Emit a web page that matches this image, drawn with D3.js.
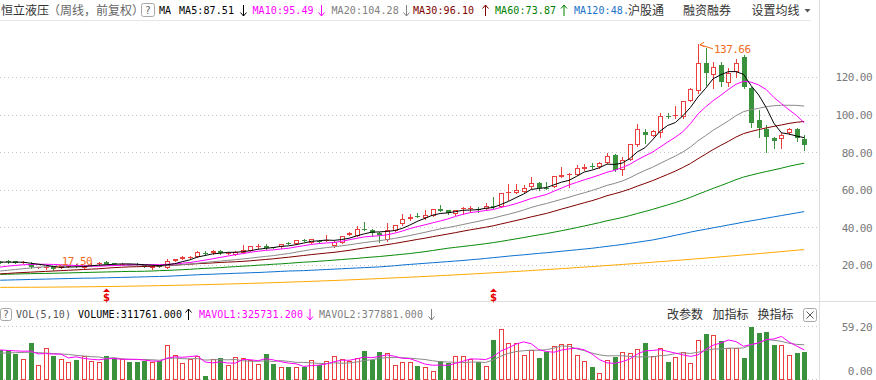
<!DOCTYPE html>
<html><head><meta charset="utf-8">
<script src="https://cdn.jsdelivr.net/npm/d3@7"></script>
<style>html,body{margin:0;padding:0;background:#fff;overflow:hidden}svg{display:block}</style>
</head><body><svg id="c" width="876" height="380"></svg>
<script>
// ---------- data (weekly, forward-adjusted) ----------
const stockName = "恒立液压";
const stockMode = "（周线，前复权）";
const open = [21.8,21.9,22.1,21.4,20.4,18.7,18.4,18.8,18.5,19.2,
19.8,18.3,19.5,20.4,21.8,20.8,20.4,20.5,20.6,20.0,
18.2,19.6,18.6,22.3,23.2,24.2,24.4,26.6,26.2,27.6,
26.4,25.4,26.5,27.6,29.9,30.1,29.5,29.4,31.6,31.2,
33.4,31.9,33.0,33.2,30.1,31.9,36.0,35.4,39.2,38.6,
37.2,33.3,38.2,41.6,44.3,46.3,44.8,46.0,49.8,49.3,
47.0,50.0,50.1,50.0,49.6,51.5,51.0,58.4,58.5,59.0,
61.3,63.5,61.0,61.6,67.0,68.2,67.9,70.9,72.4,72.0,
74.4,78.5,70.5,75.9,83.8,90.7,88.6,90.0,99.5,99.6,
98.6,107.4,112.7,127.6,121.0,126.4,116.6,122.8,130.8,114.0,
97.1,92.3,87.4,86.9,90.0,92.3,87.0];
const high = [22.2,22.4,22.3,22.0,21.8,19.2,19.3,19.0,19.6,20.0,
20.3,19.9,20.8,21.5,22.0,21.0,20.9,20.7,20.9,20.2,
19.7,20.0,23.2,23.4,24.6,25.0,27.5,27.2,27.8,27.8,
27.0,27.7,30.6,30.3,31.0,31.4,29.8,31.4,32.0,33.5,
33.8,34.0,33.2,36.0,32.6,35.6,37.8,40.8,42.7,39.2,
37.8,42.2,41.5,46.9,47.3,47.5,49.5,49.8,51.9,49.5,
49.5,50.8,51.4,51.0,52.8,56.3,58.3,63.1,63.1,62.6,
67.0,64.4,64.3,67.5,72.0,68.8,73.2,73.5,74.1,74.6,
79.7,79.0,77.6,84.5,94.8,92.2,92.0,100.7,100.7,104.6,
107.4,114.0,137.66,135.3,127.8,128.0,124.8,129.5,131.6,114.8,
102.4,94.4,88.2,90.0,92.7,92.7,89.0];
const low = [21.0,21.2,21.0,21.1,18.6,18.3,18.0,17.5,18.2,18.9,
19.0,18.1,19.3,20.2,20.4,20.2,20.2,19.8,20.1,19.0,
18.0,19.1,18.5,22.0,23.0,23.8,24.2,25.8,26.0,26.0,
26.0,25.3,26.3,27.4,29.0,28.7,29.0,29.2,31.0,31.0,
32.8,31.7,32.5,32.6,29.4,31.7,35.8,35.2,38.6,35.5,
32.4,33.0,38.0,41.4,44.1,45.3,44.6,45.8,48.7,47.3,
46.8,47.1,48.4,48.4,49.4,50.2,50.8,54.6,58.3,58.8,
61.1,60.0,60.5,61.4,66.8,61.6,67.7,70.7,71.4,71.8,
74.2,70.0,67.9,75.7,83.5,84.7,88.4,88.2,98.2,98.2,
98.4,107.2,111.3,115.7,114.0,115.0,115.0,120.0,114.0,93.5,
87.9,80.3,82.3,82.0,89.5,85.8,81.2];
const close = [21.4,21.7,21.2,21.6,18.8,18.9,18.9,17.9,19.3,19.6,
19.4,19.6,20.0,21.2,20.6,20.5,20.6,20.0,20.4,19.1,
19.5,19.4,22.3,23.2,24.4,24.4,26.8,26.4,27.6,26.2,
26.6,27.1,28.0,30.1,30.1,28.9,29.3,31.2,31.4,33.3,
33.2,33.7,32.8,33.4,32.4,35.4,37.2,39.0,38.9,36.9,
36.0,38.6,41.3,44.5,45.7,46.1,46.6,49.6,48.9,47.5,
49.3,50.2,50.3,49.8,51.4,51.2,58.1,58.6,59.9,60.8,
63.5,60.8,60.8,67.3,67.9,68.4,71.4,72.3,72.2,74.4,
78.0,70.5,75.9,84.2,92.2,89.0,91.4,99.3,99.2,99.8,
107.2,113.5,127.3,122.0,125.5,117.5,122.0,127.3,114.8,95.4,
92.7,88.2,86.1,89.0,92.3,87.4,83.8];
// volume in 万 shares
const volume = [32.4,33.5,28.7,23.1,41.3,16.4,35.4,25.7,23.1,20.1,
22.3,26.8,20.5,20.1,25.7,24.2,22.7,20.1,20.1,21.2,
19.0,21.2,38.0,27.6,18.2,22.7,25.7,3.4,23.1,23.5,
16.4,24.9,23.8,22.0,17.5,28.7,17.5,13.8,14.1,13.8,
13.8,22.0,16.4,20.9,25.7,23.1,21.2,24.2,31.3,22.0,
30.2,29.8,16.4,20.1,20.1,15.6,13.8,10.0,21.2,18.2,
26.8,25.7,23.1,20.1,15.6,43.6,56.6,41.0,41.0,27.9,
33.2,23.8,30.5,36.9,39.9,39.9,27.9,21.2,14.5,7.5,
22.0,24.9,30.5,29.8,34.3,40.6,26.8,35.4,20.1,24.9,
30.5,18.2,43.6,50.3,49.2,42.5,35.0,35.0,23.8,59.2,
51.7,53.6,38.0,38.0,27.9,29.8,31.18];
const ma5 = [21.6,21.5,21.5,21.5,20.94,20.44,19.88,19.22,18.76,18.92,
19.02,19.16,19.58,19.96,20.16,20.38,20.58,20.58,20.42,20.12,
19.92,19.68,20.14,20.70,21.76,22.74,24.22,25.04,25.92,26.28,
26.72,26.78,27.10,27.60,28.38,28.84,29.28,29.92,30.18,30.82,
31.68,32.56,32.88,33.28,33.10,33.54,34.24,35.48,36.58,37.48,
37.60,37.88,38.34,39.46,41.22,43.24,44.84,46.50,47.38,47.74,
48.38,49.10,49.24,49.42,50.20,50.58,52.16,53.82,55.84,57.72,
60.18,60.72,61.16,62.64,64.06,65.04,67.16,69.46,70.44,71.74,
73.66,73.48,74.20,76.60,80.16,82.36,86.54,91.22,94.22,95.74,
99.38,103.80,109.40,113.96,119.10,121.16,122.86,122.86,121.42,115.40,
110.44,103.68,95.44,90.28,89.66,88.60,87.72];
const ma10 = [18.9,19.4,19.8,20.1,20.3,20.4,20.4,20.3,20.1,19.93,
19.73,19.52,19.40,19.36,19.54,19.70,19.87,20.08,20.19,20.14,
20.15,20.13,20.36,20.56,20.94,21.33,21.95,22.59,23.31,24.02,
24.73,25.50,26.07,26.76,27.33,27.78,28.03,28.51,28.89,29.60,
30.26,30.92,31.40,31.73,31.96,32.61,33.40,34.18,34.93,35.29,
35.57,36.06,36.91,38.02,39.35,40.42,41.36,42.42,43.42,44.48,
45.81,46.97,47.87,48.40,48.97,49.48,50.63,51.53,52.63,53.96,
55.38,56.44,57.49,59.24,60.89,62.61,63.94,65.31,66.54,67.90,
69.35,70.32,71.83,73.52,75.95,78.01,80.01,82.71,85.41,87.95,
90.87,95.17,100.31,104.09,107.42,110.27,113.33,116.13,117.69,117.25,
115.80,113.27,109.15,105.85,102.53,99.52,95.70];
const ma20 = [16.8,17.2,17.6,18.0,18.4,18.8,19.1,19.3,19.5,19.6,
19.6,19.6,19.7,19.7,19.8,19.8,19.9,19.9,20.0,20.04,
19.94,19.83,19.88,19.96,20.24,20.52,20.91,21.34,21.75,22.08,
22.44,22.82,23.22,23.66,24.14,24.56,24.99,25.55,26.10,26.81,
27.50,28.21,28.74,29.25,29.65,30.20,30.72,31.35,31.91,32.45,
32.92,33.49,34.16,34.88,35.66,36.52,37.38,38.30,39.18,39.89,
40.69,41.52,42.39,43.21,44.16,44.95,46.00,46.98,48.03,49.22,
50.60,51.71,52.68,53.82,54.93,56.05,57.29,58.42,59.59,60.93,
62.37,63.38,64.66,66.38,68.42,70.31,71.98,74.01,75.98,77.93,
80.11,82.75,86.07,88.81,91.69,94.14,96.67,99.42,101.55,102.60,
103.34,104.22,104.73,104.97,104.98,104.90,104.52];
const ma30 = [15.3,15.5,15.8,16.0,16.2,16.4,16.6,16.8,17.0,17.2,
17.4,17.6,17.8,18.0,18.3,18.6,18.8,19.0,19.1,19.2,
19.3,19.5,19.7,19.9,20.2,20.4,20.7,20.9,21.1,21.36,
21.54,21.72,21.94,22.23,22.60,22.94,23.28,23.73,24.13,24.59,
25.05,25.52,25.94,26.35,26.74,27.24,27.79,28.43,29.04,29.64,
30.19,30.83,31.46,32.17,32.88,33.60,34.26,35.04,35.75,36.46,
37.21,37.98,38.73,39.38,40.09,40.84,41.80,42.71,43.66,44.58,
45.59,46.49,47.42,48.55,49.74,50.84,51.98,53.09,54.20,55.45,
56.85,57.91,59.06,60.39,61.94,63.37,64.86,66.52,68.19,69.94,
71.87,73.98,76.54,78.95,81.42,83.63,85.76,88.05,89.88,91.03,
92.01,92.92,93.76,94.49,95.30,95.93,96.35];
const ma60 = [15.0,15.1,15.2,15.3,15.4,15.5,15.5,15.6,15.7,15.8,
15.9,16.0,16.1,16.2,16.3,16.4,16.5,16.6,16.6,16.7,
16.8,17.0,17.1,17.3,17.5,17.7,18.0,18.2,18.4,18.6,
18.9,19.1,19.4,19.6,19.9,20.1,20.4,20.6,20.9,21.2,
21.5,21.7,22.0,22.3,22.6,22.9,23.2,23.5,23.9,24.2,
24.5,24.9,25.3,25.7,26.1,26.6,27.1,27.7,28.3,28.91,
29.38,29.85,30.34,30.81,31.35,31.89,32.54,33.22,33.90,34.58,
35.32,36.00,36.68,37.45,38.24,39.04,39.89,40.76,41.62,42.54,
43.52,44.37,45.26,46.28,47.41,48.49,49.56,50.78,51.97,53.20,
54.54,55.98,57.64,59.17,60.76,62.23,63.78,65.38,66.77,67.81,
68.80,69.71,70.59,71.52,72.52,73.39,74.16];
const ma120 = [11.9,12.0,12.1,12.2,12.3,12.4,12.5,12.6,12.7,12.8,
12.9,13.0,13.0,13.1,13.2,13.3,13.4,13.5,13.6,13.7,
13.8,13.9,14.0,14.2,14.4,14.6,14.8,15.0,15.1,15.3,
15.4,15.6,15.7,15.9,16.0,16.2,16.4,16.6,16.8,16.9,
17.0,17.2,17.4,17.6,17.8,18.0,18.2,18.4,18.6,18.8,
19.0,19.3,19.6,20.0,20.3,20.6,20.9,21.2,21.5,21.8,
22.1,22.4,22.8,23.1,23.5,23.9,24.3,24.7,25.1,25.4,
25.8,26.2,26.5,26.9,27.3,27.7,28.1,28.5,28.9,29.4,
29.9,30.4,30.9,31.5,32.1,32.7,33.3,34.1,34.9,35.8,
36.6,37.5,38.3,39.0,39.8,40.5,41.3,42.0,42.8,43.5,
44.2,44.9,45.6,46.3,47.0,47.7,48.4];
const ma250 = [8.10,8.11,8.13,8.15,8.16,8.18,8.21,8.25,8.28,8.32,
8.35,8.40,8.45,8.50,8.55,8.60,8.67,8.74,8.80,8.87,
8.94,9.02,9.11,9.19,9.28,9.36,9.46,9.56,9.67,9.77,
9.87,9.99,10.11,10.23,10.35,10.47,10.61,10.74,10.88,11.01,
11.15,11.30,11.46,11.61,11.77,11.92,12.09,12.26,12.44,12.61,
12.78,12.97,13.16,13.34,13.53,13.72,13.92,14.13,14.33,14.54,
14.74,14.96,15.18,15.41,15.63,15.85,16.09,16.33,16.57,16.81,
17.05,17.31,17.57,17.82,18.08,18.34,18.61,18.89,19.16,19.44,
19.71,20.00,20.29,20.58,20.87,21.16,21.47,21.78,22.09,22.40,
22.71,23.04,23.36,23.69,24.01,24.34,24.68,25.02,25.37,25.71,
26.05,26.41,26.77,27.13,27.49,27.85,28.22];
const mavol1 = [33.0,32.5,32.0,31.6,31.80,28.60,28.98,28.38,28.38,24.14,
25.32,23.60,22.56,21.96,23.08,23.46,22.64,22.56,22.56,21.66,
20.62,20.32,23.90,25.40,24.80,25.54,26.44,19.52,18.62,19.68,
18.42,18.26,22.34,22.12,20.92,23.38,21.90,19.90,18.32,17.58,
14.60,15.50,16.02,17.38,19.76,21.62,21.46,23.02,25.10,24.36,
25.78,27.50,25.94,23.70,23.32,20.40,17.20,15.92,16.14,15.76,
18.00,20.38,23.00,22.78,22.26,25.62,31.80,35.38,39.56,42.02,
39.94,33.38,31.28,30.46,32.86,34.20,35.02,33.16,28.68,22.20,
18.62,18.02,19.88,22.94,28.30,32.02,32.40,33.38,31.44,29.56,
27.54,25.82,27.46,33.50,38.36,40.76,44.12,42.40,37.10,39.10,
40.94,44.66,45.26,48.10,41.84,37.46,32.98];
const mavol2 = [29.4,29.7,30.0,30.2,30.5,30.0,29.5,29.0,28.5,27.97,
26.96,26.29,25.47,25.17,23.61,24.39,23.12,22.56,22.26,22.37,
22.04,21.48,23.23,23.98,23.23,23.08,23.38,21.71,22.01,22.24,
21.98,22.35,20.93,20.37,20.30,20.90,20.08,21.12,20.22,19.25,
18.99,18.70,17.96,17.85,18.67,18.11,18.48,19.52,21.24,22.06,
23.70,24.48,24.48,24.40,23.84,23.09,22.35,20.93,19.92,19.54,
19.20,18.79,19.46,19.46,19.01,21.81,26.09,29.19,31.17,32.14,
32.78,32.59,33.33,35.01,37.44,37.07,34.20,32.22,29.57,27.53,
26.41,26.52,26.52,25.81,25.25,25.32,25.21,26.63,27.19,28.93,
29.78,29.11,30.42,32.47,33.96,34.15,34.97,34.93,35.30,38.73,
40.85,44.39,43.83,42.60,40.47,39.20,38.82];
const priceTicks = [20, 40, 60, 80, 100, 120];
const volTicks = [0, 59.2];
const maNames = ["MA5", "MA10", "MA20", "MA30", "MA60", "MA120"];
const maLast = ["87.51", "95.49", "104.28", "96.10", "73.87", "48."];
const maTrend = ["down", "down", "down", "up", "up", null];
const volNames = ["VOLUME", "MAVOL1", "MAVOL2"];
const volLast = ["311761.000", "325731.200", "377881.000"];
const volTrend = ["up", "down", "down"];
const signalWeeks = [14, 65];
const headerLinks = ["沪股通", "融资融券", "设置均线"];
const volLinks = ["改参数", "加指标", "换指标"];

// ---------- drawing ----------
const RED = "#e9403d", GREEN = "#3a923c", ORANGE = "#f36b1c";
const MONO = "'DejaVu Sans Mono', 'Liberation Mono', monospace";
const CJK = "'Noto Sans CJK SC', 'Noto Sans', sans-serif";
const svg = d3.select("#c");
const n = close.length;
const x = d3.scaleBand().domain(d3.range(n)).range([-3.6, 808.0]).paddingInner(0).paddingOuter(0);
const cx = i => x(i) + x.bandwidth() / 2;
const y = d3.scaleLinear().domain([20, 120]).range([265, 77]);
const yv = d3.scaleLinear().domain([0, 59.2]).range([379.5, 326.5]);

svg.append("rect").attr("width", 876).attr("height", 380).attr("fill", "#fff");
const defs = svg.append("defs");
defs.append("clipPath").attr("id", "cp").append("rect").attr("x", 0).attr("y", 21).attr("width", 819).attr("height", 279);
defs.append("clipPath").attr("id", "cv").append("rect").attr("x", 0).attr("y", 322).attr("width", 819).attr("height", 58);

// frame lines
svg.append("line").attr("x1", 0).attr("x2", 811).attr("y1", 20.5).attr("y2", 20.5).attr("stroke", "#e6e6e6");
svg.append("line").attr("x1", 819.5).attr("x2", 819.5).attr("y1", 0).attr("y2", 380).attr("stroke", "#dedede");
svg.append("line").attr("x1", 0).attr("x2", 876).attr("y1", 301.5).attr("y2", 301.5).attr("stroke", "#dedede");

// price grid
svg.append("g").selectAll("line").data(priceTicks).join("line")
  .attr("x1", 0).attr("x2", 819).attr("y1", d => Math.round(y(d)) + 0.5).attr("y2", d => Math.round(y(d)) + 0.5)
  .attr("stroke", "#c4c4c4").attr("stroke-dasharray", "1,3");
// volume grid
svg.append("g").selectAll("line").data(volTicks).join("line")
  .attr("x1", 0).attr("x2", 819).attr("y1", d => yv(d)).attr("y2", d => yv(d))
  .attr("stroke", "#c4c4c4").attr("stroke-dasharray", "1,3");

// right axes
const ay = svg.append("g").call(d3.axisRight(y).tickValues(priceTicks).tickFormat(d3.format(".2f")).tickSize(0));
ay.select(".domain").remove();
ay.selectAll("text").attr("x", 872).attr("text-anchor", "end").attr("dy", "0.35em")
  .attr("fill", "#7a7a7a").style("font-family", MONO).style("font-size", "11px").style("letter-spacing", "-0.55px");
const av = svg.append("g").call(d3.axisRight(yv).tickValues(volTicks).tickFormat(d3.format(".2f")).tickSize(0));
av.select(".domain").remove();
av.selectAll("text").attr("x", 872).attr("text-anchor", "end").attr("dy", "0.35em")
  .attr("y", d => d === 0 ? -8.5 : 0)
  .attr("fill", "#7a7a7a").style("font-family", MONO).style("font-size", "11px").style("letter-spacing", "-0.55px");

// candles
const gp = svg.append("g").attr("clip-path", "url(#cp)");
const idx = d3.range(n);
idx.forEach(i => {
  const C = Math.round(cx(i));
  const up = close[i] >= open[i];
  const col = up ? RED : GREEN;
  const yh = Math.round(y(high[i])), yl = Math.round(y(low[i]));
  const top = Math.round(y(Math.max(open[i], close[i])));
  const bot = Math.round(y(Math.min(open[i], close[i])));
  gp.append("line").attr("x1", C + 0.5).attr("x2", C + 0.5).attr("y1", yh).attr("y2", yl + 1).attr("stroke", col);
  if (bot - top < 2) {
    gp.append("line").attr("x1", C - 2).attr("x2", C + 3).attr("y1", top + 0.5).attr("y2", top + 0.5).attr("stroke", col);
  } else if (up) {
    gp.append("rect").attr("x", C - 1.5).attr("y", top + 0.5).attr("width", 4).attr("height", bot - top - 1)
      .attr("fill", "#fff").attr("stroke", col);
  } else {
    gp.append("rect").attr("x", C - 2).attr("y", top).attr("width", 5).attr("height", bot - top).attr("fill", col);
  }
});

// moving averages
const maSeries = [
  [ma250, "#ffa800"], [ma120, "#0b72d2"], [ma60, "#0a8a0a"], [ma30, "#800000"],
  [ma20, "#8a8a8a"], [ma10, "#ff00ff"], [ma5, "#000000"]
];
const line = arr => d3.line().x(i => cx(i)).y(i => y(arr[i]))(idx.filter(i => arr[i] != null));
maSeries.forEach(([arr, c]) => {
  gp.append("path").attr("d", line(arr)).attr("fill", "none").attr("stroke", c).attr("stroke-width", 1);
});

// high / low annotations
const iH = d3.maxIndex(high), iL = d3.minIndex(low);
{
  const px = cx(iH), py = y(high[iH]);
  const g = svg.append("g").attr("stroke", ORANGE).attr("fill", "none");
  g.append("path").attr("d", `M${px + 15},${py + 5} L${px + 2},${py + 1}`);
  g.append("path").attr("d", `M${px + 6},${py - 1.5} L${px + 2},${py + 1} L${px + 6.5},${py + 3}`);
  svg.append("text").attr("x", px + 16).attr("y", py + 5.5).attr("dy", "0.35em").text(high[iH].toFixed(2))
    .attr("fill", ORANGE).style("font-family", MONO).style("font-size", "11px").style("letter-spacing", "-0.55px");
}
{
  const px = cx(iL), py = y(low[iL]);
  const g = svg.append("g").attr("stroke", ORANGE).attr("fill", "none");
  g.append("path").attr("d", `M${px + 8},${py - 5} L${px + 1.5},${py - 1}`);
  svg.append("text").attr("x", px + 8.5).attr("y", py - 8.5).attr("dy", "0.35em").text(low[iL].toFixed(2))
    .attr("fill", ORANGE).style("font-family", MONO).style("font-size", "11px").style("letter-spacing", "-0.55px");
}

// signal markers
signalWeeks.forEach(i => {
  const C = Math.round(cx(i)) + 0.5;
  svg.append("path").attr("d", `M${C - 3.5},${292} L${C},${288.5} L${C + 3.5},${292} Z`).attr("fill", "#e60000");
  svg.append("text").attr("x", C).attr("y", 300.5).attr("text-anchor", "middle").text("$")
    .attr("fill", "#e60000").style("font-family", "'DejaVu Sans', sans-serif").style("font-weight", "bold").style("font-size", "10px");
});

// volume bars
const gv = svg.append("g").attr("clip-path", "url(#cv)");
idx.forEach(i => {
  const C = Math.round(cx(i));
  const up = close[i] >= open[i];
  const top = Math.round(yv(volume[i]));
  if (up) {
    gv.append("rect").attr("x", C - 1.5).attr("y", top + 0.5).attr("width", 4).attr("height", 379 - top)
      .attr("fill", "#fff").attr("stroke", RED);
  } else {
    gv.append("rect").attr("x", C - 2).attr("y", top).attr("width", 5).attr("height", 380 - top).attr("fill", GREEN);
  }
});
const vline = arr => d3.line().x(i => cx(i)).y(i => yv(arr[i]))(idx);
gv.append("path").attr("d", vline(mavol2)).attr("fill", "none").attr("stroke", "#8a8a8a");
gv.append("path").attr("d", vline(mavol1)).attr("fill", "none").attr("stroke", "#ff00ff");

// ---------- header ----------
function arrow(g, xc, yc, dir, col) {
  const s = dir === "up" ? -1 : 1;
  g.append("path").attr("d", `M${xc},${yc - 5.5 * s} L${xc},${yc + 5.5 * s} M${xc - 3},${yc + 2 * s} L${xc},${yc + 5.5 * s} L${xc + 3},${yc + 2 * s}`)
    .attr("stroke", col).attr("fill", "none").attr("stroke-width", 1);
}
function mono(g, xx, yy, t, col) {
  return g.append("text").attr("x", xx).attr("y", yy).text(t).attr("fill", col)
    .style("font-family", MONO).style("font-size", "10px").style("letter-spacing", "0.1px");
}
function cjk(g, xx, yy, t, col, anchor) {
  return g.append("text").attr("x", xx).attr("y", yy).text(t).attr("fill", col).attr("text-anchor", anchor || "start")
    .style("font-family", CJK).style("font-size", "12px");
}
const hd = svg.append("g");
cjk(hd, 1, 14.5, stockName, "#333");
cjk(hd, 48, 14.5, stockMode, "#666");
hd.append("rect").attr("x", 141.5).attr("y", 3.5).attr("width", 13).attr("height", 13).attr("rx", 2)
  .attr("fill", "none").attr("stroke", "#a8a8a8");
hd.append("text").attr("x", 148).attr("y", 14).attr("text-anchor", "middle").text("?").attr("fill", "#666")
  .style("font-family", "'DejaVu Sans', sans-serif").style("font-size", "10px");
mono(hd, 159, 13.6, "MA", "#000");
const maColors = ["#000000", "#ff00ff", "#808080", "#800000", "#008000", "#1a73c8"];
const maX = [179, 252.5, 331.5, 413, 495, 574];
const maArrowX = [243.5, 321.5, 406.5, 485.5, 564];
maNames.forEach((nm, k) => {
  mono(hd, maX[k], 13.6, `${nm}:${maLast[k]}`, maColors[k]);
  if (maTrend[k]) arrow(hd, maArrowX[k], 10.5, maTrend[k], maColors[k]);
});
const linkX = [628, 683, 751.5];
headerLinks.forEach((t, k) => cjk(hd, linkX[k], 14.5, t, "#333"));
hd.append("path").attr("d", "M804.5,9 L810.5,9 L807.5,12.5 Z").attr("fill", "#555");

// volume header
const vh = svg.append("g");
vh.append("rect").attr("x", 0.5).attr("y", 308.5).attr("width", 11).attr("height", 12).attr("rx", 2)
  .attr("fill", "none").attr("stroke", "#a8a8a8");
vh.append("text").attr("x", 6).attr("y", 318).attr("text-anchor", "middle").text("?").attr("fill", "#666")
  .style("font-family", "'DejaVu Sans', sans-serif").style("font-size", "10px");
mono(vh, 16, 317.8, "VOL(5,10)", "#555");
const volColors = ["#000000", "#ff00ff", "#808080"];
const volX = [78, 199, 319];
const volArrowX = [188.5, 310, 431.5];
volNames.forEach((nm, k) => {
  mono(vh, volX[k], 317.8, `${nm}:${volLast[k]}`, volColors[k]);
  arrow(vh, volArrowX[k], 314.5, volTrend[k], volColors[k]);
});
const vlinkX = [667, 712.5, 757.5];
volLinks.forEach((t, k) => cjk(vh, vlinkX[k], 318.5, t, "#333"));
vh.append("rect").attr("x", 803.5).attr("y", 308.5).attr("width", 13).attr("height", 13).attr("rx", 2)
  .attr("fill", "none").attr("stroke", "#a8a8a8");
vh.append("path").attr("d", "M806.5,311.5 L813.5,318.5 M813.5,311.5 L806.5,318.5").attr("stroke", "#555");
</script>
</body></html>
